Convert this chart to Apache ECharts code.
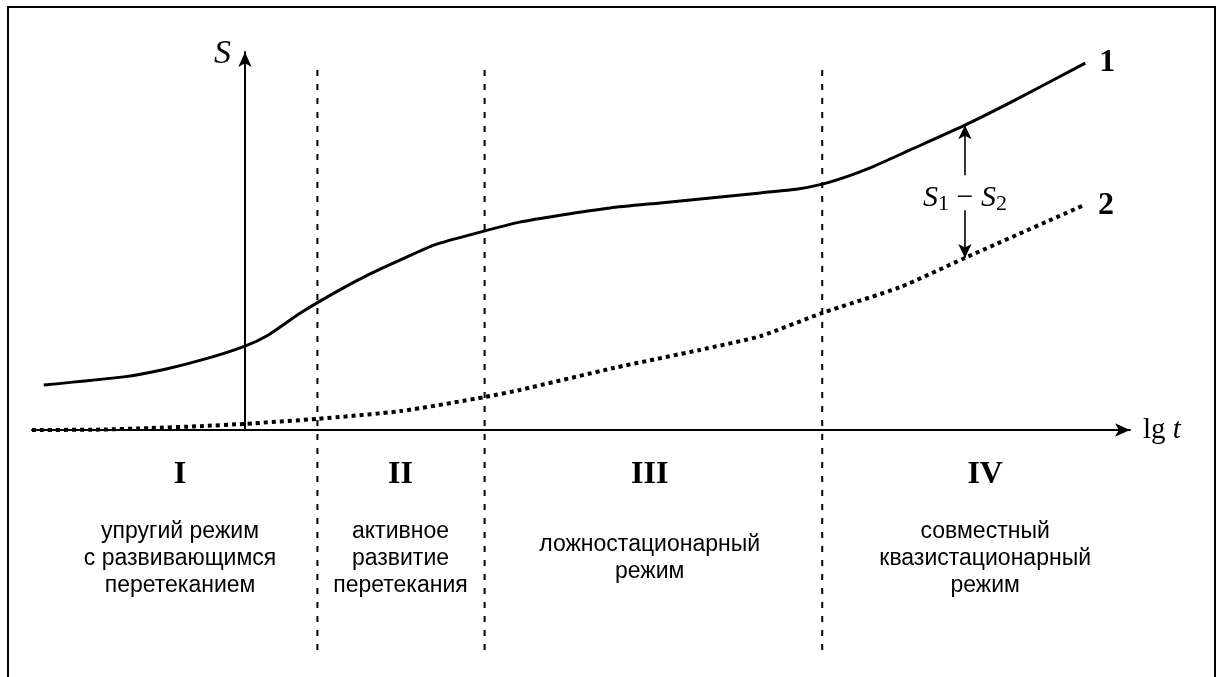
<!DOCTYPE html>
<html>
<head>
<meta charset="utf-8">
<script src="https://cdn.jsdelivr.net/npm/echarts@6/dist/echarts.min.js"></script>
<style>
html,body{margin:0;padding:0;background:#fff;}
#chart{width:1221px;height:677px;}
</style>
</head>
<body>
<div id="chart"></div>
<script>
// ---- data (arbitrary units: lg t on x, S on y) ----
const curve1X = [-1.89,-1.14,-0.75,-0.38,0,0.22,0.52,0.89,1.17,1.46,1.78,2.21,2.58,2.96,3.43,3.90,4.37,4.84,5.19,5.49,5.87,6.24,6.76,7.23,7.89];
const curve1Y = [1.17,1.38,1.58,1.84,2.18,2.47,3.04,3.64,4.05,4.42,4.81,5.14,5.40,5.58,5.77,5.90,6.03,6.16,6.26,6.44,6.81,7.27,7.92,8.57,9.53];
const curve2X = [-2.0,-1.36,-0.89,-0.42,0,0.68,1.46,2.26,2.58,3.46,4.27,4.84,5.42,6.15,6.76,7.86];
const curve2Y = [0,0.01,0.05,0.10,0.16,0.29,0.49,0.86,1.04,1.61,2.08,2.44,3.04,3.71,4.47,5.82];
const curveNames = ['1','2'];
const boundaries = [0.68, 2.25, 5.42];
const regionCenters = [-0.61, 1.46, 3.80, 6.95];
const regionNumerals = ['I','II','III','IV'];
const regionDescriptions = [
  'упругий режим\nс развивающимся\nперетеканием',
  'активное\nразвитие\nперетекания',
  'ложностационарный\nрежим',
  'совместный\nквазистационарный\nрежим'
];
const diffX = 6.76;          // where S1 - S2 is marked
const diffGapTop = 6.62;     // arrow gap around the label
const diffGapBottom = 5.71;
const diffLabelY = 6.03;

const xMin = -2, xMax = 8.31, yMax = 9.82;

const serif = '"Liberation Serif","Times New Roman",serif';
const sans = '"Liberation Sans",Arial,sans-serif';

const s1AtDiff = curve1Y[curve1X.indexOf(diffX)];
const s2AtDiff = curve2Y[curve2X.indexOf(diffX)];

const chart = echarts.init(document.getElementById('chart'));

const boundarySeries = boundaries.map(b => ({
  type: 'line', xAxisIndex: 1, yAxisIndex: 1,
  data: [[b, 0], [b, 1]], showSymbol: false, silent: true,
  lineStyle: { color: '#000', width: 2, type: [6, 8] }
}));

chart.setOption({
  animation: false,
  backgroundColor: '#fff',
  graphic: [{
    type: 'rect', shape: { x: 8, y: 7, width: 1207, height: 690 },
    style: { fill: 'none', stroke: '#000', lineWidth: 2 }, z: 100
  }],
  grid: [
    { left: 32, right: 91, top: 52, bottom: 247 },
    { left: 32, right: 91, top: 70, bottom: 27 }
  ],
  xAxis: [
    {
      type: 'value', gridIndex: 0, min: xMin, max: xMax,
      axisLine: { show: true, lineStyle: { color: '#000', width: 2 }, symbol: ['none', 'arrow'], symbolSize: [10, 15] },
      axisTick: { show: false }, axisLabel: { show: false }, splitLine: { show: false },
      name: '{a|lg }{b|t}', nameLocation: 'end', nameGap: 13,
      nameTextStyle: { rich: { a: { fontFamily: serif, fontSize: 29, color: '#000' }, b: { fontFamily: serif, fontSize: 29, fontStyle: 'italic', color: '#000' } } }
    },
    { type: 'value', gridIndex: 1, min: xMin, max: xMax, show: false }
  ],
  yAxis: [
    {
      type: 'value', gridIndex: 0, min: 0, max: yMax,
      axisLine: { show: true, onZero: true, lineStyle: { color: '#000', width: 2 }, symbol: ['none', 'arrow'], symbolSize: [10, 15] },
      axisTick: { show: false }, axisLabel: { show: false }, splitLine: { show: false },
      name: 'S', nameLocation: 'end', nameGap: -2,
      nameTextStyle: { fontFamily: serif, fontSize: 34, fontStyle: 'italic', color: '#000', align: 'right', verticalAlign: 'middle', padding: [0, 14, 0, 0] }
    },
    { type: 'value', gridIndex: 1, min: 0, max: 1, show: false }
  ],
  series: [
    {
      type: 'line', name: curveNames[0], xAxisIndex: 0, yAxisIndex: 0,
      data: curve1X.map((x, i) => [x, curve1Y[i]]),
      showSymbol: false, smooth: 0.2, silent: true,
      lineStyle: { color: '#000', width: 3 },
      endLabel: { show: true, formatter: curveNames[0], distance: 14, fontFamily: serif, fontSize: 32, fontWeight: 'bold', color: '#000' },
      markLine: {
        silent: true, animation: false,
        lineStyle: { color: '#000', width: 1.6, type: 'solid' },
        label: { show: false },
        symbolSize: [10, 14],
        data: [
          [{ coord: [diffX, s1AtDiff], symbol: 'arrow' }, { coord: [diffX, diffGapTop], symbol: 'none' }],
          [{ coord: [diffX, diffGapBottom], symbol: 'none' }, { coord: [diffX, s2AtDiff], symbol: 'arrow' }]
        ]
      },
      markPoint: {
        silent: true, symbol: 'circle', symbolSize: 0,
        itemStyle: { opacity: 1 },
        label: {
          show: true, position: 'inside', color: '#000',
          formatter: '{s|S}{n|1}{m| − }{s|S}{n|2}',
          rich: {
            s: { fontFamily: serif, fontSize: 30, fontStyle: 'italic', color: '#000' },
            m: { fontFamily: serif, fontSize: 30, color: '#000' },
            n: { fontFamily: serif, fontSize: 22, color: '#000', verticalAlign: 'bottom', padding: [12, 0, 0, 0] }
          }
        },
        data: [{ coord: [diffX, diffLabelY] }]
      }
    },
    {
      type: 'line', name: curveNames[1], xAxisIndex: 0, yAxisIndex: 0,
      data: curve2X.map((x, i) => [x, curve2Y[i]]),
      showSymbol: false, smooth: 0.2, silent: true,
      lineStyle: { color: '#000', width: 4, type: [4, 4], cap: 'butt' },
      endLabel: { show: true, formatter: curveNames[1], distance: 16, fontFamily: serif, fontSize: 32, fontWeight: 'bold', color: '#000' }
    },
    ...boundarySeries,
    {
      type: 'scatter', xAxisIndex: 1, yAxisIndex: 1, symbolSize: 0, silent: true,
      itemStyle: { opacity: 1 },
      data: regionCenters.map((x, i) => ({ name: regionNumerals[i], value: [x, 0.303] })),
      label: { show: true, position: 'inside', formatter: p => p.name, fontFamily: serif, fontSize: 32, fontWeight: 'bold', color: '#000' }
    },
    {
      type: 'scatter', xAxisIndex: 1, yAxisIndex: 1, symbolSize: 0, silent: true,
      itemStyle: { opacity: 1 },
      data: regionCenters.map((x, i) => ({ name: regionDescriptions[i], value: [x, 0.158] })),
      label: { show: true, position: 'inside', formatter: p => p.name, fontFamily: sans, fontSize: 23, lineHeight: 27, align: 'center', color: '#000' }
    }
  ]
});
</script>
</body>
</html>
